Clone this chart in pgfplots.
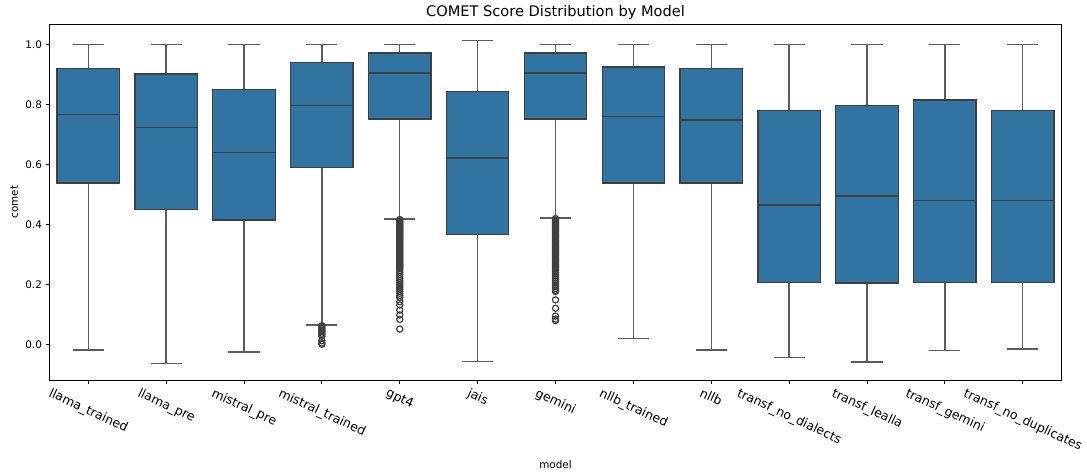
\documentclass[border=0pt]{standalone}
\usepackage{fontspec}
\setmainfont{DejaVu Sans}
\usepackage{graphicx}
\usepackage{pgfplots}
\pgfplotsset{compat=1.18}
\usepgfplotslibrary{statistics}
\definecolor{boxfill}{HTML}{3274A1}
\definecolor{boxedge}{HTML}{3F3F3F}
\begin{document}
\begin{tikzpicture}
\begin{axis}[
  name=ax,
  width=1012.4bp, height=355.5bp, scale only axis,
  xmin=-0.5, xmax=12.5, ymin=-0.119, ymax=1.066,
  xtick={0,...,12},
  xticklabels={
    \rotatebox{-25}{llama\_trained},
    \rotatebox{-25}{llama\_pre},
    \rotatebox{-25}{mistral\_pre},
    \rotatebox{-25}{mistral\_trained},
    \rotatebox{-25}{gpt4},
    \rotatebox{-25}{jais},
    \rotatebox{-25}{gemini},
    \rotatebox{-25}{nllb\_trained},
    \rotatebox{-25}{nllb},
    \rotatebox{-25}{transf\_no\_dialects},
    \rotatebox{-25}{transf\_lealla},
    \rotatebox{-25}{transf\_gemini},
    \rotatebox{-25}{transf\_no\_duplicates}},
  ytick={0,0.2,0.4,0.6,0.8,1.0},
  yticklabel style={/pgf/number format/fixed, /pgf/number format/fixed zerofill, /pgf/number format/precision=1,
    font=\fontsize{10.4bp}{12bp}\selectfont, inner sep=0pt, xshift=-3.6bp},
  xticklabel style={font=\fontsize{12.5bp}{15bp}\selectfont, anchor=north, inner sep=0pt, yshift=-3.6bp},
  /pgf/number format/assume math mode=true,
  tick align=outside, tick pos=left,
  major tick length=3.6bp,
  every tick/.style={black, line width=0.83bp},
  axis line style={line width=0.83bp, black},
  every axis title shift=0pt,
  title={COMET Score Distribution by Model},
  title style={font=\fontsize{14.6bp}{17bp}\selectfont, at={(axis description cs:0.5,1.0239)}, anchor=base, inner sep=0pt},
  xlabel={model},
  ylabel={comet},
  x label style={font=\fontsize{10.4bp}{12bp}\selectfont, at={(axis description cs:0.5,-0.2267)}, anchor=north, inner sep=0pt},
  y label style={font=\fontsize{10.4bp}{12bp}\selectfont, at={(axis description cs:-0.0306,0.5)}, anchor=south, inner sep=0pt},
  boxplot/draw direction=y,
  boxplot/box extend=0.8,
  boxplot/whisker extend=0.4,
  boxplot/every box/.style={draw=boxedge, fill=boxfill, line width=1.25bp},
  boxplot/every median/.style={draw=boxedge, line width=1.25bp},
  boxplot/every whisker/.style={draw=boxedge!85, line width=1.3bp},
]
\pgfplotsset{mybox/.style={boxedge, line width=1.25bp, mark=o, mark size=3.1bp, mark options={draw=boxedge, line width=1.2bp, fill=none}}}
\addplot[mybox, boxplot prepared={draw position=0, lower whisker=-0.019, lower quartile=0.538, median=0.767, upper quartile=0.920, upper whisker=1.0}] coordinates {};
\addplot[mybox, boxplot prepared={draw position=1, lower whisker=-0.065, lower quartile=0.449, median=0.723, upper quartile=0.901, upper whisker=1.0}] coordinates {};
\addplot[mybox, boxplot prepared={draw position=2, lower whisker=-0.026, lower quartile=0.414, median=0.640, upper quartile=0.850, upper whisker=1.0}] coordinates {};
\addplot[mybox, boxplot prepared={draw position=3, lower whisker=0.064, lower quartile=0.589, median=0.797, upper quartile=0.940, upper whisker=1.0}] coordinates {
 (3,0.062) (3,0.057) (3,0.052) (3,0.047) (3,0.042) (3,0.037) (3,0.032) (3,0.027) (3,0.012) (3,0.004) (3,0.0)};
\addplot[mybox, boxplot prepared={draw position=4, lower whisker=0.418, lower quartile=0.751, median=0.904, upper quartile=0.971, upper whisker=1.0}] coordinates {
 (4,0.416) (4,0.412) (4,0.408) (4,0.404) (4,0.400) (4,0.396) (4,0.392) (4,0.388) (4,0.384) (4,0.380)
 (4,0.376) (4,0.372) (4,0.368) (4,0.364) (4,0.360) (4,0.356) (4,0.352) (4,0.348) (4,0.344) (4,0.340)
 (4,0.336) (4,0.332) (4,0.328) (4,0.324) (4,0.320) (4,0.316) (4,0.312) (4,0.308) (4,0.304) (4,0.300)
 (4,0.296) (4,0.292) (4,0.288) (4,0.284) (4,0.280) (4,0.276) (4,0.272) (4,0.268) (4,0.264) (4,0.260)
 (4,0.256) (4,0.252) (4,0.246) (4,0.240) (4,0.233) (4,0.226) (4,0.219) (4,0.212)
 (4,0.205) (4,0.198) (4,0.191) (4,0.184) (4,0.177) (4,0.170) (4,0.163) (4,0.156)
 (4,0.142) (4,0.131) (4,0.114) (4,0.098) (4,0.083) (4,0.051)};
\addplot[mybox, boxplot prepared={draw position=5, lower whisker=-0.057, lower quartile=0.367, median=0.621, upper quartile=0.843, upper whisker=1.012}] coordinates {};
\addplot[mybox, boxplot prepared={draw position=6, lower whisker=0.421, lower quartile=0.751, median=0.904, upper quartile=0.971, upper whisker=1.0}] coordinates {
 (6,0.419) (6,0.415) (6,0.411) (6,0.407) (6,0.403) (6,0.399) (6,0.395) (6,0.391) (6,0.387) (6,0.383)
 (6,0.379) (6,0.375) (6,0.371) (6,0.367) (6,0.363) (6,0.359) (6,0.355) (6,0.351) (6,0.347) (6,0.343)
 (6,0.339) (6,0.335) (6,0.331) (6,0.327) (6,0.323) (6,0.319) (6,0.315) (6,0.311) (6,0.307) (6,0.303)
 (6,0.299) (6,0.295) (6,0.291) (6,0.287) (6,0.283) (6,0.279) (6,0.275) (6,0.271) (6,0.267) (6,0.263)
 (6,0.259) (6,0.255) (6,0.251) (6,0.246) (6,0.240) (6,0.234) (6,0.228) (6,0.222) (6,0.216) (6,0.210)
 (6,0.204) (6,0.198) (6,0.192) (6,0.186) (6,0.180) (6,0.176)
 (6,0.148) (6,0.120) (6,0.094) (6,0.084) (6,0.079)};
\addplot[mybox, boxplot prepared={draw position=7, lower whisker=0.020, lower quartile=0.538, median=0.760, upper quartile=0.924, upper whisker=1.0}] coordinates {};
\addplot[mybox, boxplot prepared={draw position=8, lower whisker=-0.019, lower quartile=0.538, median=0.748, upper quartile=0.920, upper whisker=1.0}] coordinates {};
\addplot[mybox, boxplot prepared={draw position=9, lower whisker=-0.043, lower quartile=0.207, median=0.464, upper quartile=0.779, upper whisker=1.0}] coordinates {};
\addplot[mybox, boxplot prepared={draw position=10, lower whisker=-0.059, lower quartile=0.204, median=0.494, upper quartile=0.797, upper whisker=1.0}] coordinates {};
\addplot[mybox, boxplot prepared={draw position=11, lower whisker=-0.021, lower quartile=0.207, median=0.479, upper quartile=0.814, upper whisker=1.0}] coordinates {};
\addplot[mybox, boxplot prepared={draw position=12, lower whisker=-0.016, lower quartile=0.207, median=0.479, upper quartile=0.779, upper whisker=1.0}] coordinates {};
\end{axis}
\pgfresetboundingbox
\path[use as bounding box] ([shift={(-49.3bp,-94bp)}]ax.south west) rectangle ([shift={(25.3bp,24.5bp)}]ax.north east);
\end{tikzpicture}
\end{document}
